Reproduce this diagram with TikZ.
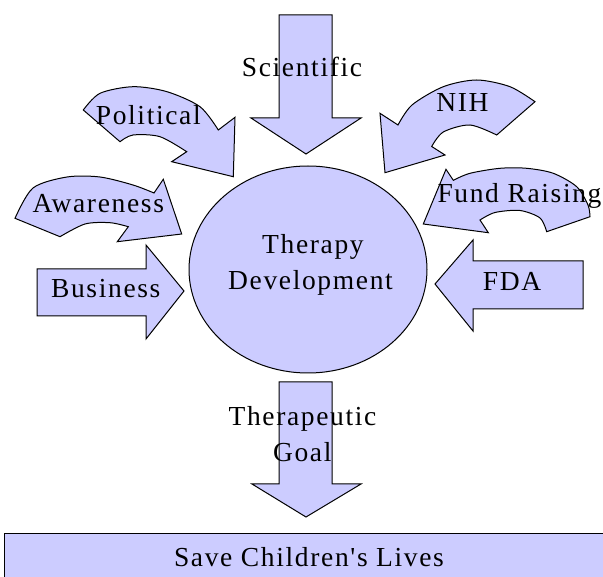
\documentclass[tikz,border=0pt]{standalone}
\usepackage{fontspec}
\setmainfont{Liberation Serif}
\newfontfamily\dfont[LetterSpace=6]{Liberation Serif}
\definecolor{lav}{RGB}{204,204,255}
\begin{document}
\begin{tikzpicture}[x=1pt,y=-1pt,
  shapefill/.style={fill=lav,draw=black,line width=1pt,line join=miter},
  lbl/.style={font=\dfont\fontsize{27.5}{33}\selectfont,inner sep=0pt,anchor=base}]
\useasboundingbox (0,0) rectangle (603,577);
% bottom box
\draw[shapefill] (4,533) rectangle (610,585);
% central ellipse
\draw[shapefill] (308,269.5) ellipse [x radius=119, y radius=103.5];
% Scientific arrow (down)
\draw[shapefill] (279,15) -- (332,15) -- (332,118) -- (361,118) -- (306,154) -- (251,118) -- (279,118) -- cycle;
% Therapeutic goal arrow (down)
\draw[shapefill] (279,382) -- (332,382) -- (332,484) -- (361,484) -- (306,517) -- (252,484) -- (279,484) -- cycle;
% Business arrow (right)
\draw[shapefill] (37,269) -- (146,269) -- (146,245) -- (184,291) -- (146,339) -- (146,316) -- (37,316) -- cycle;
% FDA arrow (left)
\draw[shapefill] (583,261) -- (473,261) -- (473,240) -- (435,284) -- (473,331) -- (473,309) -- (583,309) -- cycle;
% Political curved arrow
\draw[shapefill] plot[smooth] coordinates {(83.3,110) (100,93.3) (133,86.7) (167,91.7) (200,106.7) (218.3,130)}
  -- (235,117.3) -- (233.3,176.7) -- (171.7,161.7)
  -- plot[smooth] coordinates {(186.7,151.7) (160,136.7) (133,135) (120,141.7)} -- cycle;
% Awareness curved arrow
\draw[shapefill] plot[smooth] coordinates {(15,218.3) (33,188) (67,177) (100,177) (133,185) (154,193)}
  -- (163.3,179.3) -- (181.7,234) -- (117.3,241.7)
  -- plot[smooth] coordinates {(128.3,226.7) (110,222.7) (85,224) (60,236.7)} -- cycle;
% NIH curved arrow
\draw[shapefill] plot[smooth] coordinates {(535,101.7) (510,86.7) (476.7,80) (443.3,86.7) (412,105) (398,125)}
  -- (380,113.3) -- (385,172.7) -- (445,155)
  -- plot[smooth] coordinates {(431.7,146.5) (443.3,132) (470,125) (496.7,135)} -- cycle;
% Fund Raising curved arrow
\draw[shapefill] plot[smooth] coordinates {(453.3,180.3) (470,173.3) (500,168.3) (526.7,168.3) (553.3,173.3) (576.7,186.7) (588,205) (590,216.7)}
  -- plot[smooth] coordinates {(546.7,231.7) (540,218) (520,210.5) (495,212.5) (480,220)}
  -- (488.3,232.7) -- (423.3,224) -- (446,169.3) -- cycle;
% labels
\node[lbl] (sci) at (302,77) {Scientific};
\node[lbl] (pol) at (148.3,125) {Political};
\node[lbl] (awa) at (98.3,213) {Awareness};
\node[lbl] (nih) at (462.5,112) {NIH};
\node[lbl] (fund) at (519.5,203) {Fund Raising};
\node[lbl] (bus) at (105.8,298) {Business};
\node[lbl] (fda) at (512,291) {FDA};
\node[lbl] (td1) at (313,254) {Therapy};
\node[lbl] (td2) at (310.5,290) {Development};
\node[lbl] (tg1) at (302.5,426) {Therapeutic};
\node[lbl] (tg2) at (302.3,462) {Goal};
\node[lbl] (save) at (309,566) {Save Children's Lives};
\end{tikzpicture}
\end{document}
